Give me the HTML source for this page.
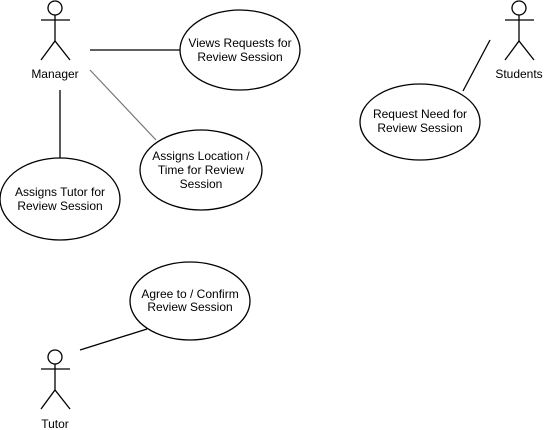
<!DOCTYPE html>
<html><head><style>html,body{margin:0;padding:0;background:#fff;}svg{display:block;}</style></head>
<body>
<svg width="544" height="430" xmlns="http://www.w3.org/2000/svg" font-family="Liberation Sans, Arial, sans-serif" font-size="12" text-anchor="middle">
<g fill="none" stroke="#000" stroke-width="1.3">
<!-- Manager -->
<circle cx="55" cy="8" r="7"/>
<line x1="55" y1="15" x2="55" y2="41"/><line x1="41" y1="20" x2="70" y2="20"/>
<polyline points="41,60 55,41 70,60"/>
<!-- Students -->
<circle cx="519" cy="8" r="7"/>
<line x1="519" y1="15" x2="519" y2="41"/><line x1="505" y1="20" x2="534" y2="20"/>
<polyline points="505,60 519,41 534,60"/>
<!-- Tutor -->
<circle cx="55" cy="357" r="7"/>
<line x1="55" y1="364" x2="55" y2="390"/><line x1="41" y1="369" x2="70" y2="369"/>
<polyline points="41,409 55,390 70,409"/>
<!-- ellipses -->
<ellipse cx="240" cy="50" rx="60" ry="40"/>
<ellipse cx="201" cy="170" rx="61" ry="40"/>
<ellipse cx="60" cy="199" rx="60" ry="41"/>
<ellipse cx="420" cy="122" rx="60" ry="38"/>
<ellipse cx="190" cy="301" rx="60" ry="39"/>
<!-- lines -->
<line x1="90" y1="50" x2="180" y2="50"/>
<line x1="60" y1="90" x2="60" y2="158"/>
<line x1="490" y1="40" x2="463" y2="91"/>
<line x1="80" y1="350" x2="147" y2="329"/>
</g>
<line x1="90" y1="70" x2="156" y2="140" stroke="#777" stroke-width="1.2"/>
<g fill="#000">
<text x="55" y="78">Manager</text>
<text x="519" y="78">Students</text>
<text x="55" y="428">Tutor</text>
<text x="240" y="47">Views Requests for</text><text x="240" y="61">Review Session</text>
<text x="201" y="160">Assigns Location /</text><text x="201" y="174">Time for Review</text><text x="201" y="188">Session</text>
<text x="60" y="196">Assigns Tutor for</text><text x="60" y="210">Review Session</text>
<text x="420" y="118">Request Need for</text><text x="420" y="132">Review Session</text>
<text x="190" y="298">Agree to / Confirm</text><text x="190" y="311">Review Session</text>
</g>
</svg>
</body></html>
